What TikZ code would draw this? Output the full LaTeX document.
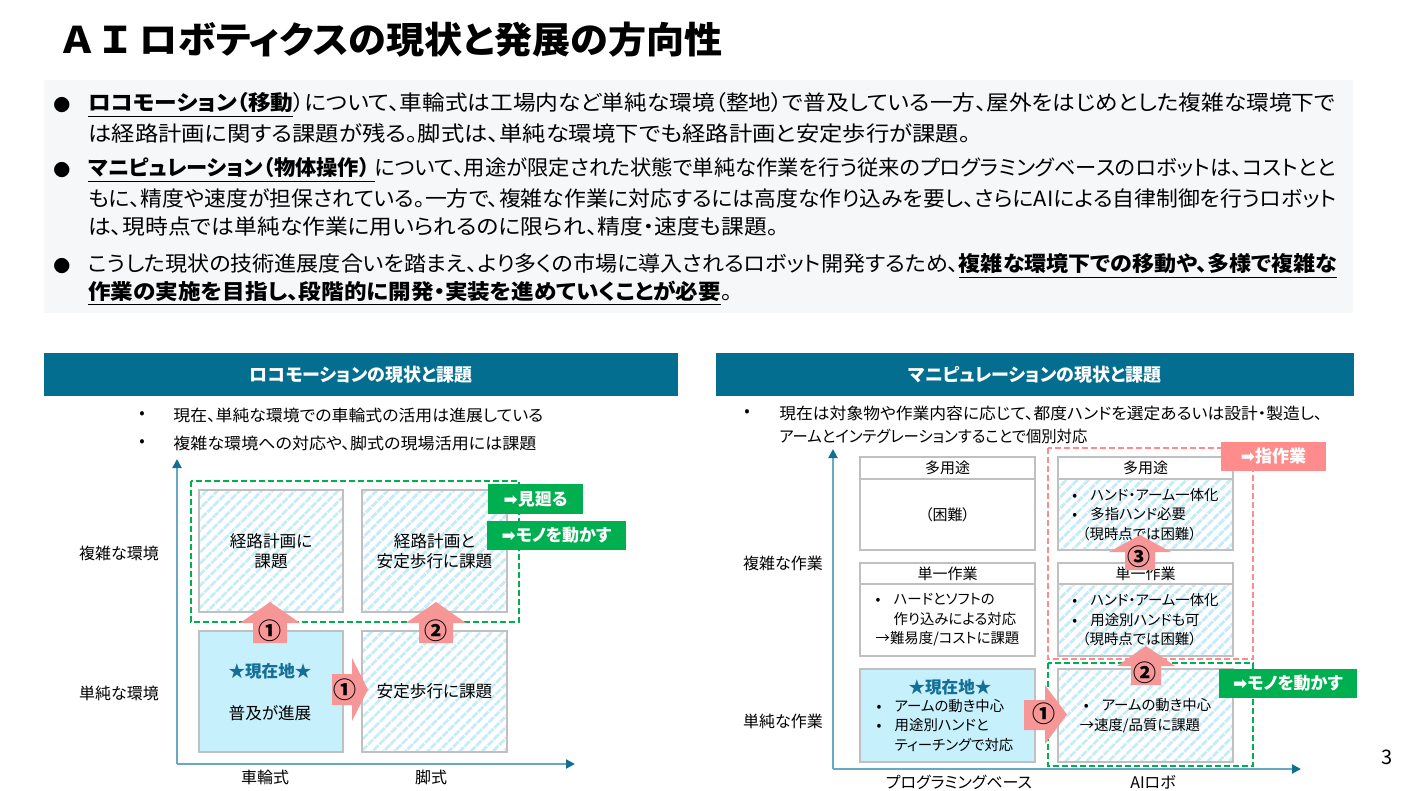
\documentclass[tikz,border=0pt]{standalone}
\usepackage{fontspec}
\usepackage{graphicx}
\setmainfont{Noto Sans CJK JP}[RawFeature=+palt]
\newfontfamily\symfont{DejaVu Sans}
\usetikzlibrary{arrows.meta, patterns.meta}

\definecolor{hdrblue}{RGB}{4,110,145}
\definecolor{axline}{RGB}{105,168,196}
\definecolor{axtip}{RGB}{20,110,145}
\definecolor{boxgray}{RGB}{192,192,192}
\definecolor{hatchblue}{RGB}{200,235,248}
\definecolor{nowblue}{RGB}{198,240,252}
\definecolor{nowtext}{RGB}{20,110,150}
\definecolor{okgreen}{RGB}{0,176,80}
\definecolor{ngpink}{RGB}{255,140,140}
\definecolor{fatpink}{RGB}{247,150,150}
\definecolor{notebg}{RGB}{245,247,249}

% squeeze a line of text to a given width (pt), height kept
\newcommand\fitto[2]{\resizebox{#1pt}{\height}{#2}}
\newcommand\bul{\makebox[9pt][l]{•}}

\tikzset{
  titletext/.style={anchor=west, inner sep=0pt, font={\fontsize{18.3}{22}\selectfont\bfseries}},
  notebox/.style={fill=notebg, inner sep=0pt},
  dotmark/.style={inner sep=0pt, font={\fontsize{8.5}{10}\selectfont}},
  bline/.style={anchor=west, inner sep=0pt, font={\fontsize{10.5}{13}\selectfont}},
  headbar/.style={fill=hdrblue, text=white, inner sep=0pt, minimum height=21.5pt,
    font={\fontsize{9}{11}\selectfont\bfseries}},
  subline/.style={anchor=west, inner sep=0pt, font={\fontsize{8}{10}\selectfont}},
  subdot/.style={inner sep=0pt, font={\fontsize{8}{10}\selectfont}},
  hatchbox/.style={draw=boxgray, line width=1pt, inner sep=0pt, align=center,
    pattern={Lines[angle=45,distance=4pt,line width=1.6pt]}, pattern color=hatchblue,
    font={\fontsize{8.3}{10}\selectfont}},
  nowbox/.style={draw=boxgray, line width=1pt, fill=nowblue, inner sep=0pt},
  plainbox/.style={draw=boxgray, line width=1pt, fill=white, inner sep=0pt,
    font={\fontsize{7.5}{9.75}\selectfont}},
  smalltext/.style={align=left, font={\fontsize{7.2}{9.75}\selectfont}},
  boxtext/.style={inner sep=0pt, align=center, font={\fontsize{8.3}{10}\selectfont}},
  nowmark/.style={inner sep=0pt, text=nowtext, font={\fontsize{8.3}{10}\selectfont\bfseries}},
  okframe/.style={draw=okgreen, line width=1pt, dash pattern=on 3pt off 1.5pt},
  ngframe/.style={draw=ngpink, line width=0.8pt, dash pattern=on 3pt off 1.5pt},
  oktag/.style={fill=okgreen, text=white, inner sep=0pt, font={\fontsize{8.5}{10}\selectfont\bfseries}},
  ngtag/.style={fill=ngpink, text=white, inner sep=0pt, font={\fontsize{8.5}{10}\selectfont\bfseries}},
  fatarr/.style={fill=fatpink},
  num/.style={inner sep=0pt, font={\fontsize{11.5}{12}\selectfont\bfseries}},
  axis/.style={draw=axline, line width=1pt, -{Triangle[length=4.5pt,width=4.5pt,color=axtip]}},
  axlabel/.style={inner sep=0pt, font={\fontsize{8}{10}\selectfont}}
}

\begin{document}
\begin{tikzpicture}[x=0.5pt, y=-0.5pt]
\useasboundingbox (0,0) rectangle (1403,791);

% Title and notes
\node[titletext] (title) at (62,40) {\fitto{330}{Ａ Ｉ ロボティクスの現状と発展の方向性}};
\node[notebox, minimum width=654.5pt, minimum height=116.5pt] (notes) at (698.5,196.5) {};

\node[dotmark] (dot1) at (62,105) {●};
\node[bline] (l1) at (88,105) {\fitto{623.5}{\textbf{\underline{ロコモーション（移動}}）について、車輪式は工場内など単純な環境（整地）で普及している一方、屋外をはじめとした複雑な環境下で}};
\node[bline] (l2) at (88,133) {\fitto{441}{は経路計画に関する課題が残る。脚式は、単純な環境下でも経路計画と安定歩行が課題。}};
\node[dotmark] (dot2) at (62,170) {●};
\node[bline] (l3) at (88,170) {\fitto{623.5}{\textbf{\underline{マニピュレーション（物体操作）\ }}について、用途が限定された状態で単純な作業を行う従来のプログラミングベースのロボットは、コストとと}};
\node[bline] (l4) at (88,199) {\fitto{624}{もに、精度や速度が担保されている。一方で、複雑な作業に対応するには高度な作り込みを要し、さらにAIによる自律制御を行うロボット}};
\node[bline] (l5) at (88,227) {\fitto{345}{は、現時点では単純な作業に用いられるのに限られ、精度・速度も課題。}};
\node[dotmark] (dot3) at (62,266) {●};
\node[bline] (l6) at (88,266) {\fitto{624.5}{こうした現状の技術進展度合いを踏まえ、より多くの市場に導入されるロボット開発するため、\textbf{\underline{複雑な環境下での移動や、多様で複雑な}}}};
\node[bline] (l7) at (88,293) {\fitto{322}{\textbf{\underline{作業の実施を目指し、段階的に開発・実装を進めていくことが必要}}。}};

% Locomotion panel
\node[headbar, minimum width=317pt] (lochead) at (361,374.5) {ロコモーションの現状と課題};
\node[subdot] (ldot1) at (142,415) {•};
\node[subline] (lsub1) at (173,415) {\fitto{185}{現在、単純な環境での車輪式の活用は進展している}};
\node[subdot] (ldot2) at (142,443) {•};
\node[subline] (lsub2) at (173,443) {\fitto{181.5}{複雑な環境への対応や、脚式の現場活用には課題}};

\node[hatchbox, minimum width=72pt, minimum height=61pt] (lhard1) at (271,551) {経路計画に\\課題};
\node[hatchbox, minimum width=72.5pt, minimum height=61pt] (lhard2) at (434.5,551) {経路計画と\\安定歩行に課題};
\node[nowbox, minimum width=72pt, minimum height=60.5pt] (lsimp1) at (271,691.5) {};
\node[hatchbox, minimum width=72.5pt, minimum height=60.5pt] (lsimp2) at (434.5,691.5) {安定歩行に課題};
\node[nowmark] (lnow) at (270,671) {★現在地★};
\node[boxtext] (lspread) at (270,713) {普及が進展};

\draw[okframe] (191,481) rectangle (519,622);

\fill[fatarr] (270,602) -- (300,623) -- (287,623) -- (287,643) -- (253,643) -- (253,623) -- (240,623) -- cycle;
\fill[fatarr] (436,602) -- (466,623) -- (453,623) -- (453,643) -- (419,643) -- (419,623) -- (406,623) -- cycle;
\fill[fatarr] (332,674) -- (352,674) -- (352,658) -- (368,689.5) -- (352,721) -- (352,705) -- (332,705) -- cycle;
\node[num] (lup1) at (270,631) {①};
\node[num] (lup2) at (436,631) {②};
\node[num] (lright1) at (345,690) {①};

\node[oktag, minimum width=47.5pt, minimum height=15pt] (tagwalk) at (535.5,499) {{\symfont ➡}見廻る};
\node[oktag, minimum width=69.5pt, minimum height=14.5pt] (tagmove1) at (556.5,535.5) {{\symfont ➡}モノを動かす};

\coordinate (lo) at (177,764);
\coordinate (ltop) at (177,459);
\coordinate (lend) at (575,764);
\draw[axis] (lo) -- (ltop);
\draw[axis] (lo) -- (lend);
\node[axlabel] (lcomplex) at (119,553) {複雑な環境};
\node[axlabel] (lsimple) at (119,693) {単純な環境};
\node[axlabel] (lwheel) at (265,777) {車輪式};
\node[axlabel] (lleg) at (431,777) {脚式};

% Manipulation panel
\node[headbar, minimum width=319pt] (manhead) at (1035,374.5) {マニピュレーションの現状と課題};
\node[subdot] (rdot1) at (747,413) {•};
\node[subline] (rsub1) at (779,413) {\fitto{271.5}{現在は対象物や作業内容に応じて、都度ハンドを選定あるいは設計・製造し、}};
\node[subline] (rsub2) at (779,436) {\fitto{154}{アームとインテグレーションすることで個別対応}};

\node[plainbox, minimum width=87.5pt, minimum height=11pt] (ph1) at (947.5,468) {多用途};
\node[plainbox, minimum width=87.5pt, minimum height=35.5pt] (pb1) at (947.5,514.5) {（困難）};
\node[plainbox, minimum width=87.5pt, minimum height=10.5pt] (ph2) at (947.5,573.5) {単一作業};
\node[plainbox, minimum width=87.5pt, minimum height=36pt, smalltext] (pb2) at (947.5,620)
  {\bul ハードとソフトの\\\hspace*{9pt}作り込みによる対応\\→難易度/コストに課題};
\node[nowbox, minimum width=87.5pt, minimum height=46.5pt] (pb3) at (947.5,715.5) {};
\node[nowmark] (rnow) at (950,687) {★現在地★};
\node[inner sep=0pt, smalltext] (pb3txt) at (945,725.5)
  {\bul アームの動き中心\\\bul 用途別ハンドと\\\hspace*{9pt}ティーチングで対応};

\node[plainbox, minimum width=87.5pt, minimum height=11pt] (ah1) at (1145.5,468) {多用途};
\node[hatchbox, minimum width=87.5pt, minimum height=35.5pt, smalltext] (ab1) at (1145.5,514.5)
  {\bul ハンド・アーム一体化\\\bul 多指ハンド必要\\\hspace*{5pt}（現時点では困難）};
\node[plainbox, minimum width=87.5pt, minimum height=10.5pt] (ah2) at (1145.5,573.5) {単一作業};
\node[hatchbox, minimum width=87.5pt, minimum height=36pt, smalltext] (ab2) at (1145.5,620)
  {\bul ハンド・アーム一体化\\\bul 用途別ハンドも可\\\hspace*{5pt}（現時点では困難）};
\node[hatchbox, minimum width=87.5pt, minimum height=46.5pt, smalltext] (ab3) at (1145.5,715.5)
  {\hspace*{2pt}\bul アームの動き中心\\→速度/品質に課題};

\draw[ngframe] (1048,448) rectangle (1253,659);
\draw[okframe] (1048,663) rectangle (1253,766);

\fill[fatarr] (1024,700) -- (1045,700) -- (1045,685) -- (1067,714.5) -- (1045,744) -- (1045,730) -- (1024,730) -- cycle;
\fill[fatarr] (1146,646) -- (1175,666) -- (1161,666) -- (1161,685) -- (1131,685) -- (1131,666) -- (1117,666) -- cycle;
\fill[fatarr] (1140,535) -- (1171,552) -- (1155,552) -- (1155,570) -- (1125,570) -- (1125,552) -- (1109,552) -- cycle;
\node[num] (rright1) at (1044,714) {①};
\node[num] (rup2) at (1145,673) {②};
\node[num] (rup3) at (1139,557) {③};

\node[ngtag, minimum width=52.5pt, minimum height=14.5pt] (tagfinger) at (1273.5,456.5) {{\symfont ➡}指作業};
\node[oktag, minimum width=69pt, minimum height=14.5pt] (tagmove2) at (1288,683.5) {{\symfont ➡}モノを動かす};

\coordinate (ro) at (833,769);
\coordinate (rtop) at (833,449);
\coordinate (rend) at (1301,769);
\draw[axis] (ro) -- (rtop);
\draw[axis] (ro) -- (rend);
\node[axlabel] (rcomplex) at (783,563) {複雑な作業};
\node[axlabel] (rsimple) at (783,721) {単純な作業};
\node[axlabel] (rprog) at (959,782) {プログラミングベース};
\node[axlabel] (rai) at (1153,782) {AIロボ};

\node[inner sep=0pt, font={\fontsize{10}{12}\selectfont}] (pageno) at (1387,757) {3};
\end{tikzpicture}
\end{document}
